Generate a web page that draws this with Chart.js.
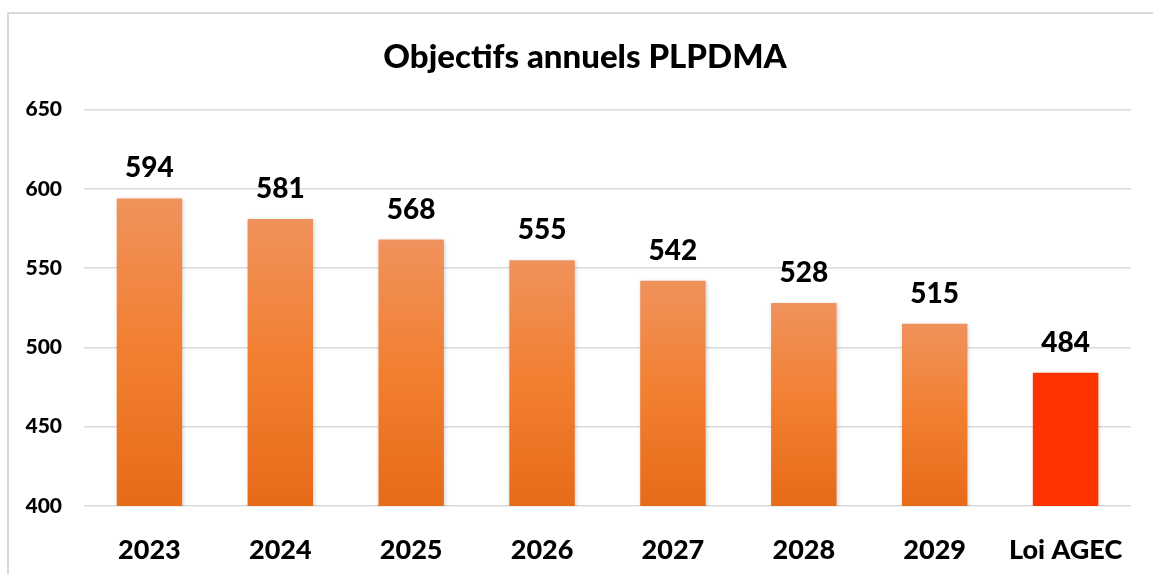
<!DOCTYPE html>
<html>
<head>
<meta charset="utf-8">
<script src="https://cdn.jsdelivr.net/npm/chart.js@4"></script>
<style>
  html, body { margin: 0; padding: 0; background: #fff; }
  #frame { position: absolute; left: 7px; top: 12px; width: 1170px; height: 600px; border: 2px solid #d9d9d9; box-sizing: border-box; }
  #wrap { position: absolute; left: 0; top: 0; width: 1153px; height: 574px; }
</style>
</head>
<body>
<div id="frame"></div>
<div id="wrap"><canvas id="objChart"></canvas></div>
<script>
// categories and values
const years = ['2023', '2024', '2025', '2026', '2027', '2028', '2029', 'Loi AGEC'];
const objectifs = [594, 581, 568, 555, 542, 528, 515, 484];
const yTicks = [400, 450, 500, 550, 600, 650];

const FONT = "Lato, 'Open Sans', sans-serif";

// orange gradient per bar, last bar plain red
function barColor(ctx) {
    const chart = ctx.chart;
    if (ctx.dataIndex === years.length - 1) return '#ff3300';
    if (!chart.chartArea || !chart.scales.y) return '#f07f30';
    const y = chart.scales.y;
    const top = y.getPixelForValue(objectifs[ctx.dataIndex]);
    const bottom = y.getPixelForValue(400);
    const g = chart.ctx.createLinearGradient(0, top, 0, bottom);
    g.addColorStop(0, '#f0925c');
    g.addColorStop(0.5, '#f27f30');
    g.addColorStop(1, '#e66b19');
    return g;
}

const barShadow = {
    id: 'barShadow',
    beforeDatasetsDraw(chart) {
        const c = chart.ctx;
        c.save();
        c.shadowColor = 'rgba(0,0,0,0.18)';
        c.shadowBlur = 4;
        c.shadowOffsetX = 1;
        c.shadowOffsetY = 1;
    },
    afterDatasetsDraw(chart) {
        chart.ctx.restore();
    }
};

// the title sits a bit right of the canvas centre in the original
const titleShift = {
    id: 'titleShift',
    afterLayout(chart) {
        if (chart.titleBlock) chart.titleBlock.left += 39;
    }
};

const valueLabels = {
    id: 'valueLabels',
    afterDraw(chart) {
        const c = chart.ctx;
        c.save();
        c.font = '900 28px ' + FONT;
        c.fillStyle = '#000';
        c.textAlign = 'center';
        c.textBaseline = 'middle';
        chart.getDatasetMeta(0).data.forEach((bar, i) => {
            c.fillText(objectifs[i], bar.x, bar.y - 30);
        });
        c.restore();
    }
};

new Chart(document.getElementById('objChart').getContext('2d'), {
    type: 'bar',
    data: {
        labels: years,
        datasets: [{
            label: 'Objectifs',
            data: objectifs,
            backgroundColor: barColor,
            categoryPercentage: 1,
            barPercentage: 0.5
        }]
    },
    options: {
        responsive: true,
        maintainAspectRatio: false,
        animation: false,
        layout: { padding: { left: 0, right: 22, top: 0, bottom: 0 } },
        plugins: {
            legend: { display: false },
            tooltip: { enabled: false },
            title: {
                display: true,
                text: 'Objectifs annuels PLPDMA',
                color: '#000',
                font: { family: FONT, size: 33, weight: 900 },
                padding: { top: 38, bottom: 32 }
            }
        },
        scales: {
            x: {
                grid: { display: false },
                border: { display: false },
                ticks: {
                    color: '#000',
                    padding: 20,
                    font: { family: FONT, size: 27, weight: 900 }
                },
                afterFit(scale) { scale.height = 68; }
            },
            y: {
                min: 400,
                max: 650,
                afterBuildTicks(scale) { scale.ticks = yTicks.map(v => ({ value: v })); },
                grid: { color: '#d9d9d9', lineWidth: 1.5, drawTicks: false },
                border: { display: false },
                ticks: {
                    color: '#000',
                    padding: 22,
                    font: { family: FONT, size: 21, weight: 900 }
                },
                afterFit(scale) { scale.width = 84; }
            }
        }
    },
    plugins: [titleShift, barShadow, valueLabels]
});
</script>
</body>
</html>
